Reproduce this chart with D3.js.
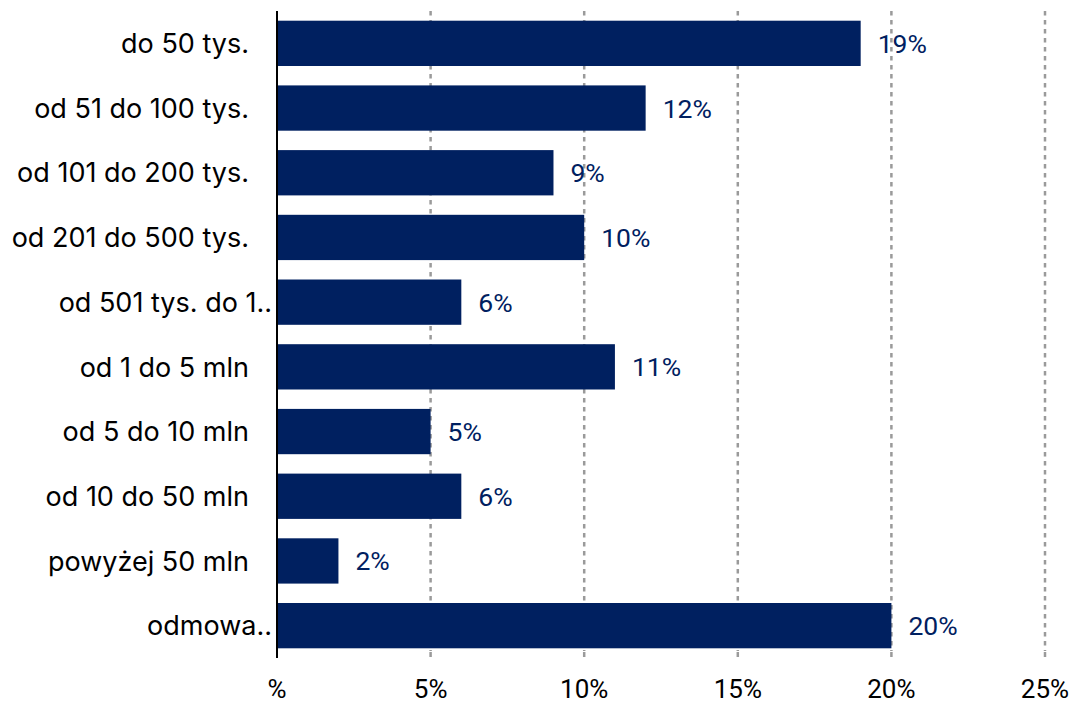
<!DOCTYPE html>
<html><head><meta charset="utf-8">
<script src="https://cdn.jsdelivr.net/npm/d3@7"></script>
<style>body{margin:0;background:#fff}</style>
</head><body>
<svg id="c" width="1081" height="706"></svg>
<script>
const categories = ["do 50 tys.","od 51 do 100 tys.","od 101 do 200 tys.","od 201 do 500 tys.","od 501 tys. do 1..","od 1 do 5 mln","od 5 do 10 mln","od 10 do 50 mln","powyżej 50 mln","odmowa.."];
const values = [19,12,9,10,6,11,5,6,2,20];
const tickValues = [0,5,10,15,20,25];
const tickLabels = ["%","5%","10%","15%","20%","25%"];

const svg = d3.select("#c");
const x = d3.scaleLinear().domain([0,25]).range([277,1045]);
const y = d3.scaleBand().domain(categories).range([11,658]).paddingInner(0.3).paddingOuter(0.15);
const navy = "#002060";

// gridlines
svg.append("g").selectAll("line").data(tickValues.slice(1)).join("line")
  .attr("x1",d=>x(d)).attr("x2",d=>x(d)).attr("y1",11).attr("y2",651)
  .attr("stroke","#9a9a9a").attr("stroke-width",2.5).attr("stroke-dasharray","4.5,4.5");
svg.append("g").selectAll("line").data(tickValues.slice(1)).join("line")
  .attr("x1",d=>x(d)).attr("x2",d=>x(d)).attr("y1",652).attr("y2",657)
  .attr("stroke","#9a9a9a").attr("stroke-width",2.5);

// bars
svg.append("g").selectAll("rect").data(values).join("rect")
  .attr("x",x(0)).attr("y",(d,i)=>y(categories[i]))
  .attr("width",d=>x(d)-x(0)).attr("height",y.bandwidth())
  .attr("fill",navy);

// axis line
svg.append("line").attr("x1",x(0)).attr("x2",x(0)).attr("y1",11).attr("y2",658)
  .attr("stroke","#000").attr("stroke-width",2);

// value labels
svg.append("g").selectAll("text").data(values).join("text")
  .attr("x",d=>x(d)+17).attr("y",(d,i)=>y(categories[i])+y.bandwidth()/2)
  .attr("dy","0.36em").attr("fill",navy)
  .attr("font-family","Roboto").attr("font-size",26.5)
  .text(d=>d+"%");

// category labels
svg.append("g").selectAll("text").data(categories).join("text")
  .attr("x",d=>d.endsWith("..")?x(0)-5:x(0)-28)
  .attr("y",d=>y(d)+y.bandwidth()/2).attr("dy","0.36em")
  .attr("text-anchor","end").attr("fill","#000")
  .attr("font-family","Inter").attr("font-size",27)
  .text(d=>d);

// x tick labels
svg.append("g").selectAll("text").data(tickValues).join("text")
  .attr("x",d=>x(d)).attr("y",689).attr("dy","0.36em")
  .attr("text-anchor","middle").attr("fill","#000")
  .attr("font-family","Roboto").attr("font-size",26)
  .text((d,i)=>tickLabels[i]);
</script>
</body></html>
